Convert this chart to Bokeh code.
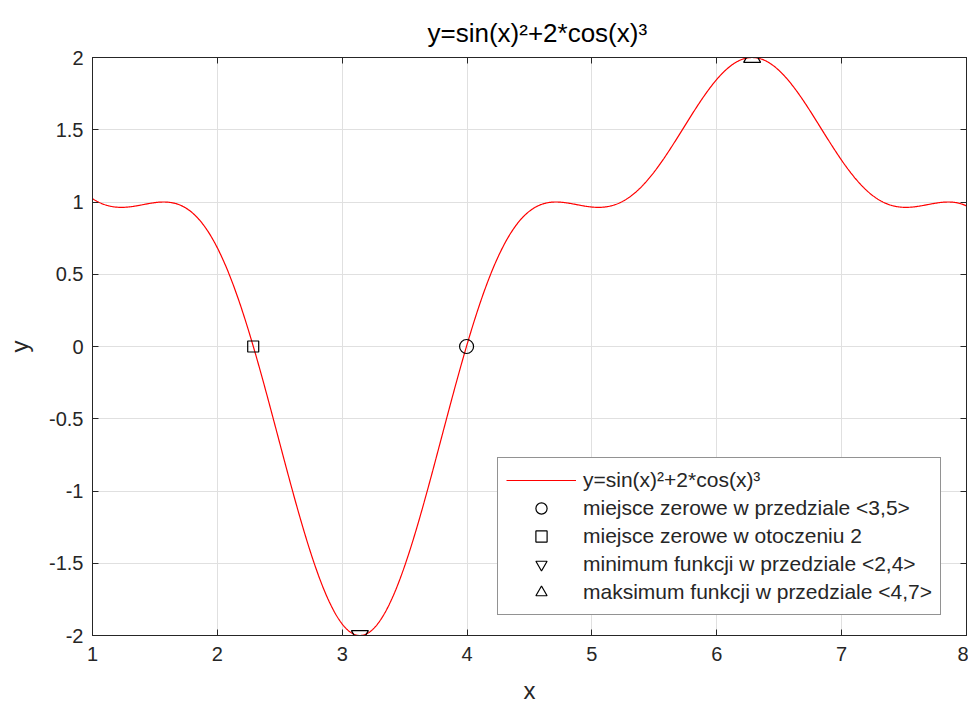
import numpy as np
from bokeh.plotting import figure
from bokeh.models import Range1d, LinearAxis, FixedTicker, Legend, LegendItem
from bokeh.embed import file_html
from bokeh.resources import INLINE

# ---- data ----
title_text = "y=sin(x)²+2*cos(x)³"
x_label = "x"
y_label = "y"

# the plotted function is the one named in the chart title
x_curve = np.linspace(1.0, 8.0, 1401)
y_curve = np.sin(x_curve) ** 2 + 2 * np.cos(x_curve) ** 3

zero_35_x = [3.9960]
zero_35_y = [0.0]
zero_near2_x = [2.2872]
zero_near2_y = [0.0]
min_24_x = [3.1416]
min_24_y = [-2.0]
max_47_x = [6.2832]
max_47_y = [2.0]

x_ticks = [1, 2, 3, 4, 5, 6, 7, 8]
y_ticks = [-2, -1.5, -1, -0.5, 0, 0.5, 1, 1.5, 2]
y_tick_labels = ["-2", "-1.5", "-1", "-0.5", "0", "0.5", "1", "1.5", "2"]

legend_labels = [
    "y=sin(x)²+2*cos(x)³",
    "miejsce zerowe w przedziale <3,5>",
    "miejsce zerowe w otoczeniu 2",
    "minimum funkcji w przedziale <2,4>",
    "maksimum funkcji w przedziale <4,7>",
]

FONT = "Liberation Sans"
AX = "#262626"

p = figure(
    width=968, height=706,
    x_range=Range1d(1, 8), y_range=Range1d(-2, 2),
    output_backend="svg", toolbar_location=None,
    min_border_left=92, min_border_right=2, min_border_top=57, min_border_bottom=65,
    title=title_text,
)
p.background_fill_color = "white"
p.border_fill_color = "white"
p.outline_line_color = AX
p.outline_line_width = 1

p.title.text_font = FONT
p.title.text_font_size = "26px"
p.title.text_font_style = "normal"
p.title.text_color = "black"
p.title.align = "left"
p.title.offset = 335
p.title.standoff = 20

for ax in (p.xaxis[0], p.yaxis[0]):
    ax.major_tick_in = 6
    ax.major_tick_out = 0
    ax.minor_tick_in = 0
    ax.minor_tick_out = 0
    ax.axis_line_color = AX
    ax.major_tick_line_color = AX
    ax.major_label_text_font = FONT
    ax.major_label_text_font_size = "20px"
    ax.major_label_text_color = AX
    ax.axis_label_text_font = FONT
    ax.axis_label_text_font_size = "24px"
    ax.axis_label_text_font_style = "normal"
    ax.axis_label_text_color = AX

p.xaxis.ticker = FixedTicker(ticks=x_ticks)
p.yaxis.ticker = FixedTicker(ticks=y_ticks)
p.yaxis.major_label_overrides = {t: s for t, s in zip(y_ticks, y_tick_labels)}
p.xaxis.axis_label = x_label
p.yaxis.axis_label = y_label
p.xaxis.major_label_standoff = 11
p.yaxis.major_label_standoff = 9
p.xaxis.axis_label_standoff = 13
p.yaxis.axis_label_standoff = 13

# box ticks on the top and right sides (tick marks only, no labels)
top_axis = LinearAxis(ticker=FixedTicker(ticks=[], minor_ticks=x_ticks),
                      major_tick_in=0, major_tick_out=0,
                      minor_tick_in=6, minor_tick_out=0,
                      axis_line_color=AX, minor_tick_line_color=AX)
right_axis = LinearAxis(ticker=FixedTicker(ticks=[], minor_ticks=y_ticks),
                        major_tick_in=0, major_tick_out=0,
                        minor_tick_in=6, minor_tick_out=0,
                        axis_line_color=AX, minor_tick_line_color=AX)
p.add_layout(top_axis, "above")
p.add_layout(right_axis, "right")

p.xgrid.ticker = FixedTicker(ticks=x_ticks)
p.ygrid.ticker = FixedTicker(ticks=y_ticks)
p.grid.grid_line_color = "#e0e0e0"
p.grid.grid_line_width = 1

r_line = p.line(x_curve, y_curve, line_color="red", line_width=1.2)
mk = dict(fill_color=None, line_color="black", line_width=1.2)
r_c = p.scatter(zero_35_x, zero_35_y, marker="circle", size=14, **mk)
r_s = p.scatter(zero_near2_x, zero_near2_y, marker="square", size=11, **mk)
r_v = p.scatter(min_24_x, min_24_y, marker="inverted_triangle", size=17, **mk)
r_t = p.scatter(max_47_x, max_47_y, marker="triangle", size=17, **mk)

legend = Legend(
    items=[LegendItem(label=l, renderers=[r]) for l, r in
           zip(legend_labels, [r_line, r_c, r_s, r_v, r_t])],
    location=(405, 20),
)
legend.margin = 0
legend.padding = 8
legend.spacing = 0
legend.glyph_width = 70
legend.glyph_height = 28
legend.label_height = 28
legend.label_standoff = 7
legend.label_text_font = FONT
legend.label_text_font_size = "21px"
legend.label_text_color = AX
legend.border_line_color = AX
legend.border_line_width = 1
legend.background_fill_color = "white"
legend.background_fill_alpha = 1
p.add_layout(legend)

open("out.html", "w").write(file_html(p, INLINE))
